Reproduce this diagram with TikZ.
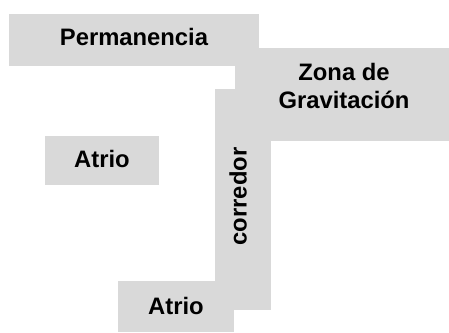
\documentclass[tikz,border=0pt]{standalone}
\usepackage{fontspec}
\setmainfont{Liberation Sans}
\definecolor{zonegray}{HTML}{D9D9D9}
\begin{document}
\begin{tikzpicture}[x=1pt,y=-1pt,
  zone/.style={fill=zonegray,draw=none,anchor=north west,inner sep=0pt,outer sep=0pt},
  lbl/.style={font=\fontsize{23.8}{28}\selectfont\bfseries,inner sep=0pt,anchor=base,text=black}]
\useasboundingbox (0,0) rectangle (449,332);
% areas
\node[zone,minimum width=250pt,minimum height=51.7pt] (perm) at (9,14) {};
\node[zone,minimum width=214pt,minimum height=92.7pt] (zona) at (235,48) {};
\node[zone,minimum width=56pt,minimum height=221pt] (corr) at (215,89) {};
\node[zone,minimum width=114pt,minimum height=49pt] (atrio1) at (45,136) {};
\node[zone,minimum width=116pt,minimum height=51pt] (atrio2) at (118,281) {};
% labels
\node[lbl] (permtxt) at (134,45) {Permanencia};
\node[lbl] (zonatxt1) at (344,80) {Zona de};
\node[lbl] (zonatxt2) at (344,108.3) {Gravitación};
\node[lbl,rotate=90] (corrtxt) at (246.7,196.5) {corredor};
\node[lbl] (atrio1txt) at (102,167) {Atrio};
\node[lbl] (atrio2txt) at (176,314) {Atrio};
\end{tikzpicture}
\end{document}
